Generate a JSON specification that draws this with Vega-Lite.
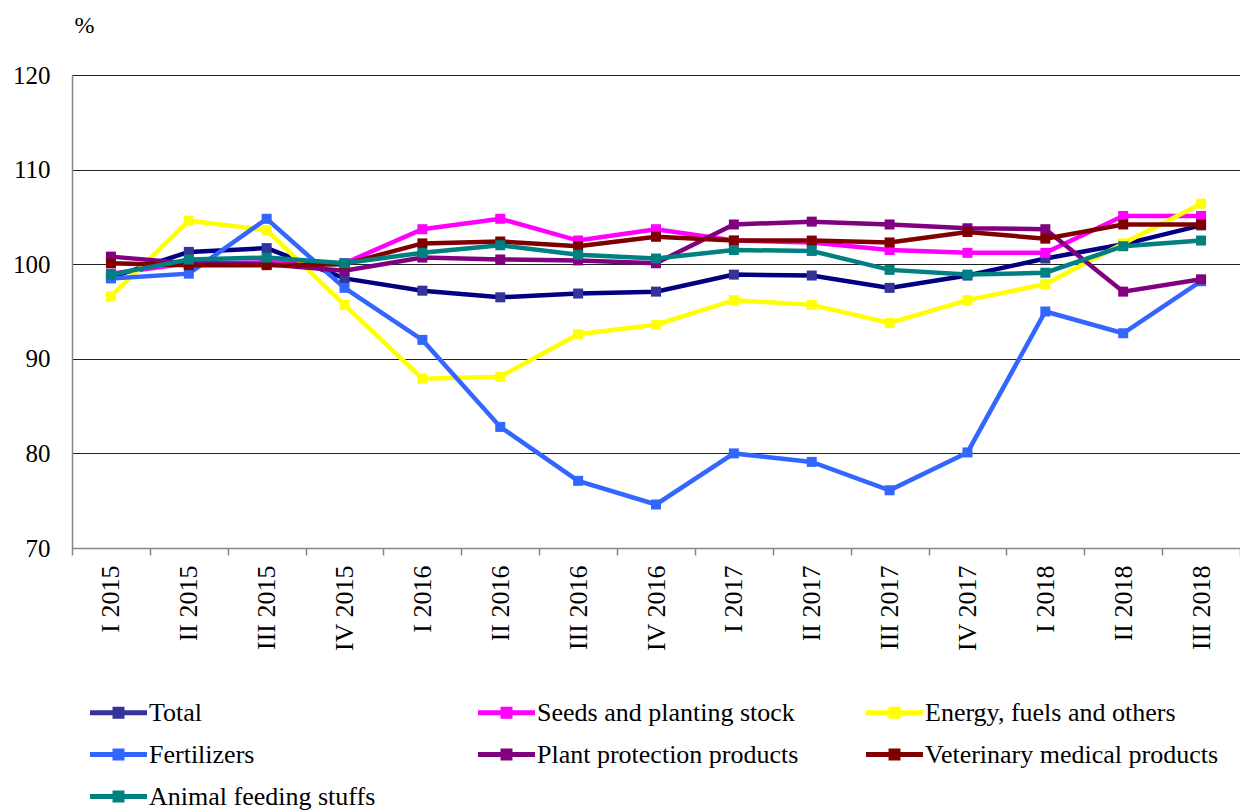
{
  "$schema": "https://vega.github.io/schema/vega-lite/v6.json",
  "width": 1168,
  "height": 473,
  "autosize": "none",
  "padding": {"left": 72, "top": 75, "right": 0, "bottom": 264},
  "background": "white",
  "config": {
    "view": {"stroke": null},
    "font": "Liberation Serif",
    "axis": {"labelFont": "Liberation Serif", "titleFont": "Liberation Serif", "labelColor": "black", "titleColor": "black"},
    "legend": {"labelFont": "Liberation Serif"}
  },
  "data": {"values": [
    {"quarter":"I 2015","series":"Total","value":98.6},
    {"quarter":"II 2015","series":"Total","value":101.3},
    {"quarter":"III 2015","series":"Total","value":101.7},
    {"quarter":"IV 2015","series":"Total","value":98.5},
    {"quarter":"I 2016","series":"Total","value":97.2},
    {"quarter":"II 2016","series":"Total","value":96.5},
    {"quarter":"III 2016","series":"Total","value":96.9},
    {"quarter":"IV 2016","series":"Total","value":97.1},
    {"quarter":"I 2017","series":"Total","value":98.9},
    {"quarter":"II 2017","series":"Total","value":98.8},
    {"quarter":"III 2017","series":"Total","value":97.5},
    {"quarter":"IV 2017","series":"Total","value":98.8},
    {"quarter":"I 2018","series":"Total","value":100.6},
    {"quarter":"II 2018","series":"Total","value":102.1},
    {"quarter":"III 2018","series":"Total","value":104.1},
    {"quarter":"I 2015","series":"Seeds and planting stock","value":99.0},
    {"quarter":"II 2015","series":"Seeds and planting stock","value":100.1},
    {"quarter":"III 2015","series":"Seeds and planting stock","value":100.2},
    {"quarter":"IV 2015","series":"Seeds and planting stock","value":100.1},
    {"quarter":"I 2016","series":"Seeds and planting stock","value":103.7},
    {"quarter":"II 2016","series":"Seeds and planting stock","value":104.8},
    {"quarter":"III 2016","series":"Seeds and planting stock","value":102.5},
    {"quarter":"IV 2016","series":"Seeds and planting stock","value":103.7},
    {"quarter":"I 2017","series":"Seeds and planting stock","value":102.5},
    {"quarter":"II 2017","series":"Seeds and planting stock","value":102.3},
    {"quarter":"III 2017","series":"Seeds and planting stock","value":101.5},
    {"quarter":"IV 2017","series":"Seeds and planting stock","value":101.2},
    {"quarter":"I 2018","series":"Seeds and planting stock","value":101.2},
    {"quarter":"II 2018","series":"Seeds and planting stock","value":105.1},
    {"quarter":"III 2018","series":"Seeds and planting stock","value":105.1},
    {"quarter":"I 2015","series":"Energy, fuels and others","value":96.6},
    {"quarter":"II 2015","series":"Energy, fuels and others","value":104.6},
    {"quarter":"III 2015","series":"Energy, fuels and others","value":103.6},
    {"quarter":"IV 2015","series":"Energy, fuels and others","value":95.7},
    {"quarter":"I 2016","series":"Energy, fuels and others","value":87.9},
    {"quarter":"II 2016","series":"Energy, fuels and others","value":88.1},
    {"quarter":"III 2016","series":"Energy, fuels and others","value":92.6},
    {"quarter":"IV 2016","series":"Energy, fuels and others","value":93.6},
    {"quarter":"I 2017","series":"Energy, fuels and others","value":96.2},
    {"quarter":"II 2017","series":"Energy, fuels and others","value":95.7},
    {"quarter":"III 2017","series":"Energy, fuels and others","value":93.8},
    {"quarter":"IV 2017","series":"Energy, fuels and others","value":96.2},
    {"quarter":"I 2018","series":"Energy, fuels and others","value":97.9},
    {"quarter":"II 2018","series":"Energy, fuels and others","value":102.2},
    {"quarter":"III 2018","series":"Energy, fuels and others","value":106.4},
    {"quarter":"I 2015","series":"Fertilizers","value":98.5},
    {"quarter":"II 2015","series":"Fertilizers","value":99.0},
    {"quarter":"III 2015","series":"Fertilizers","value":104.8},
    {"quarter":"IV 2015","series":"Fertilizers","value":97.5},
    {"quarter":"I 2016","series":"Fertilizers","value":92.0},
    {"quarter":"II 2016","series":"Fertilizers","value":82.8},
    {"quarter":"III 2016","series":"Fertilizers","value":77.1},
    {"quarter":"IV 2016","series":"Fertilizers","value":74.6},
    {"quarter":"I 2017","series":"Fertilizers","value":80.0},
    {"quarter":"II 2017","series":"Fertilizers","value":79.1},
    {"quarter":"III 2017","series":"Fertilizers","value":76.1},
    {"quarter":"IV 2017","series":"Fertilizers","value":80.1},
    {"quarter":"I 2018","series":"Fertilizers","value":95.0},
    {"quarter":"II 2018","series":"Fertilizers","value":92.7},
    {"quarter":"III 2018","series":"Fertilizers","value":98.2},
    {"quarter":"I 2015","series":"Plant protection products","value":100.8},
    {"quarter":"II 2015","series":"Plant protection products","value":100.1},
    {"quarter":"III 2015","series":"Plant protection products","value":100.0},
    {"quarter":"IV 2015","series":"Plant protection products","value":99.3},
    {"quarter":"I 2016","series":"Plant protection products","value":100.7},
    {"quarter":"II 2016","series":"Plant protection products","value":100.5},
    {"quarter":"III 2016","series":"Plant protection products","value":100.4},
    {"quarter":"IV 2016","series":"Plant protection products","value":100.1},
    {"quarter":"I 2017","series":"Plant protection products","value":104.2},
    {"quarter":"II 2017","series":"Plant protection products","value":104.5},
    {"quarter":"III 2017","series":"Plant protection products","value":104.2},
    {"quarter":"IV 2017","series":"Plant protection products","value":103.8},
    {"quarter":"I 2018","series":"Plant protection products","value":103.7},
    {"quarter":"II 2018","series":"Plant protection products","value":97.1},
    {"quarter":"III 2018","series":"Plant protection products","value":98.4},
    {"quarter":"I 2015","series":"Veterinary medical products","value":100.1},
    {"quarter":"II 2015","series":"Veterinary medical products","value":99.9},
    {"quarter":"III 2015","series":"Veterinary medical products","value":99.9},
    {"quarter":"IV 2015","series":"Veterinary medical products","value":100.0},
    {"quarter":"I 2016","series":"Veterinary medical products","value":102.2},
    {"quarter":"II 2016","series":"Veterinary medical products","value":102.4},
    {"quarter":"III 2016","series":"Veterinary medical products","value":101.9},
    {"quarter":"IV 2016","series":"Veterinary medical products","value":102.9},
    {"quarter":"I 2017","series":"Veterinary medical products","value":102.5},
    {"quarter":"II 2017","series":"Veterinary medical products","value":102.5},
    {"quarter":"III 2017","series":"Veterinary medical products","value":102.3},
    {"quarter":"IV 2017","series":"Veterinary medical products","value":103.4},
    {"quarter":"I 2018","series":"Veterinary medical products","value":102.7},
    {"quarter":"II 2018","series":"Veterinary medical products","value":104.2},
    {"quarter":"III 2018","series":"Veterinary medical products","value":104.2},
    {"quarter":"I 2015","series":"Animal feeding stuffs","value":98.9},
    {"quarter":"II 2015","series":"Animal feeding stuffs","value":100.5},
    {"quarter":"III 2015","series":"Animal feeding stuffs","value":100.7},
    {"quarter":"IV 2015","series":"Animal feeding stuffs","value":100.1},
    {"quarter":"I 2016","series":"Animal feeding stuffs","value":101.2},
    {"quarter":"II 2016","series":"Animal feeding stuffs","value":102.0},
    {"quarter":"III 2016","series":"Animal feeding stuffs","value":101.0},
    {"quarter":"IV 2016","series":"Animal feeding stuffs","value":100.6},
    {"quarter":"I 2017","series":"Animal feeding stuffs","value":101.5},
    {"quarter":"II 2017","series":"Animal feeding stuffs","value":101.4},
    {"quarter":"III 2017","series":"Animal feeding stuffs","value":99.4},
    {"quarter":"IV 2017","series":"Animal feeding stuffs","value":98.9},
    {"quarter":"I 2018","series":"Animal feeding stuffs","value":99.1},
    {"quarter":"II 2018","series":"Animal feeding stuffs","value":101.9},
    {"quarter":"III 2018","series":"Animal feeding stuffs","value":102.5}
  ]},
  "encoding": {
    "x": {
      "field": "quarter", "type": "ordinal", "bandPosition": 0.5,
      "sort": ["I 2015","II 2015","III 2015","IV 2015","I 2016","II 2016","III 2016","IV 2016","I 2017","II 2017","III 2017","IV 2017","I 2018","II 2018","III 2018"],
      "scale": {"type": "band", "paddingInner": 0, "paddingOuter": 0},
      "axis": {
        "title": null, "labelAngle": 270, "labelAlign": "right", "labelBaseline": "middle",
        "labelFont": "Liberation Serif", "labelFontSize": 26, "labelPadding": 10, "tickBand": "extent", "tickSize": 7,
        "tickColor": "#868686", "domainColor": "#868686", "domainWidth": 1.5, "tickWidth": 1.5,
        "grid": false
      }
    },
    "y": {
      "field": "value", "type": "quantitative",
      "scale": {"domain": [70, 120], "nice": false, "zero": false},
      "axis": {
        "values": [70, 80, 90, 100, 110, 120], "labelFont": "Liberation Serif", "labelFontSize": 25, "labelPadding": 22, "ticks": false,
        "domainColor": "#868686", "domainWidth": 1.5, "grid": true, "gridColor": "#222222", "gridWidth": 1,
        "title": "%", "titleFont": "Liberation Serif", "titleAngle": 0, "titleFontSize": 24, "titleFontWeight": "normal",
        "titleX": 2, "titleY": -50, "titleAlign": "left", "titleBaseline": "middle"
      }
    }
  },
  "layer": [
    {
      "mark": {"type": "line", "strokeWidth": 4.5},
      "encoding": {
        "stroke": {
          "field": "series", "type": "nominal",
          "scale": {
            "domain": ["Total","Seeds and planting stock","Energy, fuels and others","Fertilizers","Plant protection products","Veterinary medical products","Animal feeding stuffs"],
            "range": ["#000080","#FF00FF","#FFFF00","#3366FF","#800080","#800000","#008080"]
          },
          "legend": {
            "title": null, "orient": "none", "legendX": 18, "legendY": 609, "direction": "horizontal",
            "columns": 3, "gridAlign": "all", "columnPadding": 35, "rowPadding": -13,
            "labelFont": "Liberation Serif", "labelFontSize": 26, "labelColor": "black", "labelLimit": 400, "labelOffset": 2,
            "symbolType": "M-1,-0.09L1,-0.09L1,0.09L-1,0.09Z M-0.21,-0.21L0.21,-0.21L0.21,0.21L-0.21,0.21Z",
            "symbolSize": 3249, "symbolStrokeWidth": 0,
            "encode": {
              "symbols": {"update": {"fill": {"scale": "stroke", "field": "value"}, "stroke": {"value": "transparent"}}},
              "labels": {"update": {"font": {"value": "Liberation Serif"}, "fontSize": {"value": 26}}}
            }
          }
        }
      }
    },
    {
      "mark": {"type": "point", "shape": "square", "filled": true, "size": 100, "opacity": 1},
      "encoding": {
        "fill": {
          "field": "series", "type": "nominal", "legend": null,
          "scale": {
            "domain": ["Total","Seeds and planting stock","Energy, fuels and others","Fertilizers","Plant protection products","Veterinary medical products","Animal feeding stuffs"],
            "range": ["#333399","#FF00FF","#FFFF00","#3366FF","#800080","#800000","#008080"]
          }
        }
      }
    }
  ]
}
